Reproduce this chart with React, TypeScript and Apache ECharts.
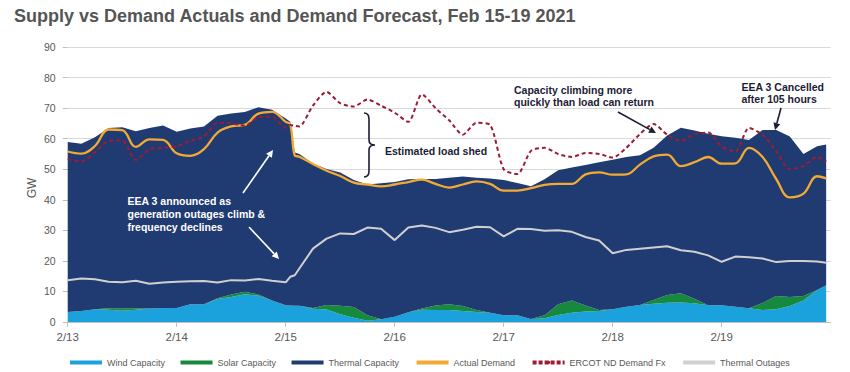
import React, { useEffect, useRef } from "react";
import * as echarts from "echarts";

// hours since 2/13 00:00
const hours = [0, 3, 6, 9, 12, 15, 18, 21, 24, 27, 30, 33, 36, 39, 42, 45, 48, 49, 50, 51, 54, 57, 60, 63, 66, 69, 72, 75, 78, 81, 84, 87, 90, 93, 96, 99, 102, 105, 108, 111, 114, 117, 120, 123, 126, 129, 132, 135, 138, 141, 144, 147, 150, 153, 156, 159, 162, 165, 167];

const windCapacity = [3.3, 3.6, 4.2, 4.0, 3.7, 4.0, 4.4, 4.6, 4.6, 5.8, 5.8, 7.5, 8.2, 9.1, 8.6, 7.0, 5.5, 5.4, 5.3, 5.3, 4.3, 4.1, 2.5, 1.4, 0.4, 0.9, 1.7, 3.2, 4.0, 3.9, 3.9, 3.6, 3.3, 3.0, 2.2, 2.2, 1.0, 1.2, 2.3, 3.0, 3.4, 3.6, 4.2, 5.0, 5.6, 6.0, 6.3, 6.4, 6.1, 5.5, 5.5, 5.0, 4.5, 3.9, 4.2, 5.2, 7.0, 10.5, 12.0];

const solarCapacity = [0, 0, 0, 0.5, 0.8, 0.5, 0, 0, 0, 0, 0, 0.3, 0.8, 0.8, 0.4, 0, 0, 0, 0, 0, 0.3, 1.5, 2.8, 3.5, 1.8, 0, 0, 0, 0.4, 1.5, 1.9, 1.6, 0.6, 0, 0, 0, 0, 1.0, 3.5, 4.0, 2.0, 0.3, 0, 0, 0, 1.2, 2.5, 3.0, 1.5, 0, 0, 0, 0, 2.3, 4.3, 3.0, 1.5, 0, 0];

// top of the stacked supply (wind + solar + thermal)
const totalSupplyCapacity = [58.9, 58.3, 60.5, 63.5, 63.7, 62.4, 63.5, 64.3, 62.3, 63.3, 64.0, 67.5, 68.2, 68.7, 70.3, 69.5, 66.6, 65.5, 55.5, 55.0, 51.9, 50.1, 48.9, 46.5, 45.0, 45.4, 45.8, 46.7, 46.8, 46.8, 47.2, 47.6, 47.2, 47.0, 46.5, 45.5, 44.4, 46.7, 49.7, 50.6, 51.4, 52.3, 53.1, 54.0, 54.6, 57.0, 61.0, 63.6, 62.7, 61.6, 60.8, 60.3, 59.6, 62.8, 62.8, 60.7, 55.0, 57.5, 58.1];

const actualDemand = [55.8, 55.1, 57.6, 63.0, 62.8, 57.3, 59.8, 59.6, 55.2, 54.4, 56.6, 62.0, 64.0, 64.5, 68.2, 68.8, 65.5, 64.7, 54.5, 54.1, 51.7, 49.5, 47.8, 45.6, 45.0, 44.4, 45.0, 45.8, 46.6, 45.2, 44.0, 45.0, 46.0, 45.2, 43.0, 43.0, 43.8, 44.9, 45.2, 45.2, 48.3, 49.0, 48.2, 48.3, 51.5, 54.2, 54.8, 51.0, 52.3, 54.0, 51.8, 51.9, 57.0, 54.0, 46.8, 40.8, 42.0, 47.7, 47.0];

const ercotDemandFx = [53.3, 52.5, 55.5, 59.2, 59.4, 53.0, 56.5, 57.0, 57.5, 59.2, 60.8, 65.2, 65.0, 64.2, 67.0, 67.2, 63.6, 64.5, 64.2, 64.0, 70.8, 75.3, 71.6, 70.5, 72.8, 70.8, 68.5, 65.5, 74.5, 70.0, 66.0, 61.3, 65.2, 64.5, 50.0, 48.4, 56.0, 57.0, 55.0, 54.0, 55.3, 55.0, 53.8, 57.0, 61.5, 64.8, 61.3, 59.2, 61.5, 62.0, 57.4, 55.8, 63.5, 61.3, 55.9, 50.0, 51.0, 54.1, 52.5];

const thermalOutages = [13.7, 14.2, 14.0, 13.2, 13.0, 13.5, 12.5, 12.9, 13.2, 13.3, 13.4, 12.9, 13.7, 13.6, 14.1, 13.5, 13.0, 14.8, 15.3, 17.5, 24.0, 27.3, 29.0, 28.8, 30.9, 30.5, 26.8, 30.9, 31.6, 30.8, 29.4, 30.2, 31.2, 31.0, 28.0, 30.5, 30.4, 29.9, 30.0, 29.5, 27.8, 26.7, 22.5, 23.6, 24.0, 24.4, 24.8, 23.5, 23.0, 21.8, 19.7, 21.4, 21.2, 20.8, 19.6, 20.0, 20.0, 19.8, 19.4];

const dayLabels = ["2/13", "2/14", "2/15", "2/16", "2/17", "2/18", "2/19"];

const seriesNames = ["Wind Capacity", "Solar Capacity", "Thermal Capacity", "Actual Demand", "ERCOT ND Demand Fx", "Thermal Outages"];

const FONT = 'Arial, "Liberation Sans", Helvetica, sans-serif';

const COLORS = {
  wind: "#1ba1db",
  solar: "#17893f",
  thermal: "#203a72",
  actual: "#f2aa33",
  ercot: "#9b1c35",
  outages: "#d0d0d0",
};

const HOUR = 3600 * 1000;
const DAY = 24 * HOUR;
const START = new Date(2021, 1, 13, 0, 0, 0).getTime();

function arrow(x1: number, y1: number, x2: number, y2: number, color: string) {
  const dx = x2 - x1;
  const dy = y2 - y1;
  const len = Math.sqrt(dx * dx + dy * dy);
  const ux = dx / len;
  const uy = dy / len;
  const hl = 7;
  const hw = 3.5;
  const bx = x2 - ux * hl;
  const by = y2 - uy * hl;
  const px = -uy;
  const py = ux;
  return [
    { type: "line", z: 100, shape: { x1, y1, x2: bx, y2: by }, style: { stroke: color, lineWidth: 1.6 } },
    {
      type: "polygon",
      z: 100,
      shape: { points: [[x2, y2], [bx + px * hw, by + py * hw], [bx - px * hw, by - py * hw]] },
      style: { fill: color },
    },
  ];
}

function label(text: string, x: number, y: number, color: string) {
  return {
    type: "text",
    z: 100,
    x,
    y,
    style: {
      text,
      fill: color,
      font: `bold 10.5px ${FONT}`,
      align: "left",
      verticalAlign: "middle",
    },
  };
}

export default function App() {
  const ref = useRef<HTMLDivElement>(null);

  useEffect(() => {
    const braceD = "M0 0 C4 0 5 2 5 6 L5 27 C5 30 7 32 11 32 C7 32 5 34 5 37 L5 58 C5 62 4 64 0 64";
    try {
      echarts.graphic.registerShape("brace", echarts.graphic.extendPath(braceD, {}));
    } catch (e) {
      /* already registered */
    }
    const chart = echarts.init(ref.current as HTMLDivElement, undefined, { renderer: "svg" });

    const t = (h: number) => START + h * HOUR;
    const pair = (arr: number[]) => hours.map((h, i) => [t(h), arr[i]]);
    const thermalCapacity = hours.map((h, i) => [t(h), +(totalSupplyCapacity[i] - windCapacity[i] - solarCapacity[i]).toFixed(2)]);

    const dark = "#1c1c36";
    const white = "#ffffff";

    const option: any = {
      animation: false,
      backgroundColor: "#ffffff",
      title: {
        text: "Supply vs Demand Actuals and Demand Forecast, Feb 15-19 2021",
        left: 9,
        top: 2,
        textStyle: { fontFamily: FONT, fontSize: 18, fontWeight: "bold", color: "#555555" },
      },
      grid: { left: 67.7, right: 19.3, top: 47, bottom: 50, containLabel: false, outerBoundsMode: "none" },
      legend: {
        left: 65,
        top: 353,
        itemWidth: 32,
        itemHeight: 4,
        itemGap: 15.5,
        textStyle: { fontFamily: FONT, fontSize: 9, color: "#595959" },
        data: [
          { name: seriesNames[0], icon: "rect" },
          { name: seriesNames[1], icon: "rect" },
          { name: seriesNames[2], icon: "rect" },
          { name: seriesNames[3], lineStyle: { width: 4 } },
          { name: seriesNames[4], lineStyle: { width: 4, type: [4, 2] } },
          { name: seriesNames[5], lineStyle: { width: 4 } },
        ],
      },
      xAxis: {
        type: "time",
        min: START,
        max: START + 7 * DAY,
        minInterval: DAY,
        maxInterval: DAY,
        axisLine: { show: true, lineStyle: { color: "#bfbfbf", width: 1 } },
        axisTick: { show: true, length: 5, lineStyle: { color: "#bfbfbf" } },
        splitLine: { show: false },
        minorTick: { show: false },
        axisLabel: {
          margin: 9,
          fontFamily: FONT,
          fontSize: 11.5,
          color: "#595959",
          showMinLabel: true,
          showMaxLabel: false,
          formatter: (v: number) => {
            const i = Math.round((v - START) / DAY);
            return i >= 0 && i < dayLabels.length ? dayLabels[i] : "";
          },
        },
      },
      yAxis: {
        type: "value",
        min: 0,
        max: 90,
        interval: 10,
        axisLine: { show: false },
        axisTick: { show: true, length: 5, lineStyle: { color: "#bfbfbf" } },
        splitLine: { show: true, lineStyle: { color: "#d9d9d9", width: 1 } },
        axisLabel: { margin: 12, fontFamily: FONT, fontSize: 10.5, color: "#595959" },
      },
      series: [
        {
          name: seriesNames[0],
          type: "line",
          stack: "supply",
          symbol: "none",
          color: COLORS.wind,
          lineStyle: { width: 0 },
          areaStyle: { color: COLORS.wind, opacity: 1 },
          data: pair(windCapacity),
        },
        {
          name: seriesNames[1],
          type: "line",
          stack: "supply",
          symbol: "none",
          color: COLORS.solar,
          lineStyle: { width: 0 },
          areaStyle: { color: COLORS.solar, opacity: 1 },
          data: pair(solarCapacity),
        },
        {
          name: seriesNames[2],
          type: "line",
          stack: "supply",
          symbol: "none",
          color: COLORS.thermal,
          lineStyle: { width: 0 },
          areaStyle: { color: COLORS.thermal, opacity: 1 },
          data: thermalCapacity,
        },
        {
          name: seriesNames[5],
          type: "line",
          symbol: "none",
          color: COLORS.outages,
          lineStyle: { width: 2, color: COLORS.outages },
          data: pair(thermalOutages),
        },
        {
          name: seriesNames[3],
          type: "line",
          symbol: "none",
          smooth: 0.4,
          color: COLORS.actual,
          lineStyle: { width: 2.3, color: COLORS.actual },
          data: pair(actualDemand),
        },
        {
          name: seriesNames[4],
          type: "line",
          symbol: "none",
          smooth: 0.25,
          color: COLORS.ercot,
          lineStyle: { width: 2, color: COLORS.ercot, type: [4, 3] },
          data: pair(ercotDemandFx),
        },
      ],
      graphic: [
        {
          type: "text",
          z: 100,
          x: 32,
          y: 188,
          rotation: Math.PI / 2,
          style: { text: "GW", fill: "#595959", font: `12px ${FONT}`, align: "center", verticalAlign: "middle" },
        },
        label("EEA 3 announced as", 127.5, 201, white),
        label("generation outages climb &", 127.5, 213.8, white),
        label("frequency declines", 127.5, 226.6, white),
        ...arrow(243, 193, 273, 150, white),
        ...arrow(249, 227, 279, 259, white),
        {
          type: "brace",
          z: 100,
          x: 364,
          y: 113,
          style: { stroke: dark, fill: "none", lineWidth: 1.6 },
        },
        label("Estimated load shed", 385, 151, dark),
        label("Capacity climbing more", 514, 90, dark),
        label("quickly than load can return", 514, 101.7, dark),
        ...arrow(618, 112, 656, 133, dark),
        label("EEA 3 Cancelled", 741.5, 87, dark),
        label("after 105 hours", 741.5, 99, dark),
        ...arrow(781, 108, 775, 130, dark),
      ],
    };

    chart.setOption(option);
    return () => {
      chart.dispose();
    };
  }, []);

  return <div ref={ref} style={{ position: "absolute", left: 0, top: 0, width: 850, height: 372 }} />;
}
